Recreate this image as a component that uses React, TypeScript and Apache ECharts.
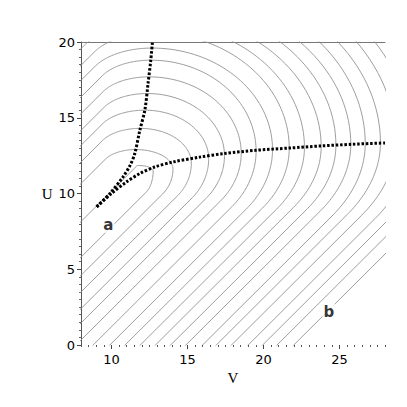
import React, { useEffect, useRef } from "react";
import * as echarts from "echarts";

// axis ranges / ticks
const vRange = [8, 28];
const uRange = [0, 20];
const vLabels = [10, 15, 20, 25];
const uLabels = [0, 5, 10, 15, 20];

// contour parameters (one entry per contour, innermost first)
const topV = [11.75, 11.6, 11.9, 12.2, 12.35, 12.47, 12.59, 12.67, 12.75, 12.8, 12.88, 12.95, 13.0, 13.05, 13.1, 13.15, 13.2, 13.25, 13.28, 13.3];
const topU = [11.85, 12.9, 14.3, 15.5, 16.6, 17.7, 18.8, 19.6, 20.6, 21.25, 21.9, 22.6, 23.25, 24.0, 24.65, 25.4, 26.15, 26.9, 27.65, 28.4];
const rightV = [12.75, 14.05, 15.26, 16.4, 17.44, 18.54, 19.52, 20.6, 21.7, 22.7, 23.8, 24.77, 25.75, 26.7, 27.7, 28.7, 29.7, 30.7, 31.7, 32.7];
const rightU = [11.5, 11.6, 12.0, 12.3, 12.5, 12.65, 12.8, 12.9, 13.0, 13.05, 13.1, 13.2, 13.25, 13.3, 13.35, 13.4, 13.45, 13.5, 13.55, 13.6];
const upperOffset = [0, 2.66, 4.08, 5.18, 6.17, 7.27, 8.37, 9.47, 10.46, 11.56, 12.6, 13.7, 14.8, 15.9, 17.0, 18.1, 19.2, 20.3, 21.4, 22.5]; // U - V of upper-left straight branch
const lowerOffset = [2.2, 3.4, 4.5, 5.6, 6.55, 7.67, 8.8, 9.9, 10.9, 11.9, 12.9, 13.9, 14.9, 16.0, 16.9, 17.9, 19.0, 19.95, 20.9, 22.0]; // V - U of lower-right straight branch

// dotted curves
const curveA = [[9.03, 9.12], [9.9, 10.0], [10.77, 11.1], [11.25, 11.9], [11.54, 12.64], [11.87, 14.17], [12.2, 15.5], [12.41, 17.25], [12.59, 18.8], [12.7, 20]];
const curveB = [[9.03, 9.12], [10.0, 10.0], [11.0, 10.77], [11.87, 11.32], [12.85, 11.75], [14.05, 12.08], [15.8, 12.4], [17.44, 12.64], [19.5, 12.85], [21.7, 13.0], [23.8, 13.14], [25.85, 13.25], [28, 13.34]];

// region labels
const regionLabels = [
  { name: "a", v: 9.8, u: 7.9 },
  { name: "b", v: 24.3, u: 2.2 },
];

function contourPoints(k: number): number[][] {
  const cv = topV[k], tu = topU[k], rv = rightV[k], ru = rightU[k];
  const a = rv - cv; // upper-right horizontal semi-axis
  const bR = tu - ru; // upper-right vertical semi-axis
  const n = 40;
  const L = 40;
  const pts: number[][] = [];
  // upper-left: tight corner joining the straight branch U - V = upperOffset
  const g = Math.max(upperOffset[k] - (tu - cv), 0.05);
  const bUL = 0.9 * g;
  const s = bUL + g;
  const aL = Math.sqrt(s * s - bUL * bUL);
  const thT = Math.atan2(aL, bUL);
  const cuUL = tu - bUL;
  const pu = [cv - aL * Math.sin(thT), cuUL + bUL * Math.cos(thT)];
  pts.push([pu[0] - L, pu[1] - L]);
  for (let i = 0; i <= n; i++) {
    const th = thT * (1 - i / n);
    pts.push([cv - aL * Math.sin(th), cuUL + bUL * Math.cos(th)]);
  }
  // upper-right arc from top to rightmost point
  for (let i = 1; i <= n; i++) {
    const ph = (Math.PI / 2) * (i / n);
    pts.push([cv + a * Math.sin(ph), ru + bR * Math.cos(ph)]);
  }
  // lower-right: broad bend into straight branch V - U = lowerOffset
  const h = Math.max(lowerOffset[k] - (rv - ru), 0.05);
  const s2 = a + h;
  const bL = Math.sqrt(s2 * s2 - a * a);
  const psT = Math.atan2(bL, a);
  for (let i = 1; i <= n; i++) {
    const ps = psT * (i / n);
    pts.push([rv - a + a * Math.cos(ps), ru - bL * Math.sin(ps)]);
  }
  const pl = pts[pts.length - 1];
  pts.push([pl[0] - L, pl[1] - L]);
  return pts;
}

export default function App() {
  const ref = useRef<HTMLDivElement>(null);
  useEffect(() => {
    if (!ref.current) return;
    const chart = echarts.init(ref.current, undefined, { renderer: "svg" });
    const contourStyle = { color: "#8c8c8c", width: 0.85 };
    const series: any[] = [];
    for (let k = 0; k < rightV.length; k++) {
      series.push({
        type: "line",
        data: contourPoints(k),
        showSymbol: false,
        silent: true,
        lineStyle: contourStyle,
        clip: true,
        z: 1,
      });
    }
    [curveA, curveB].forEach((cur) => {
      series.push({
        type: "line",
        data: cur,
        smooth: 0.3,
        showSymbol: false,
        silent: true,
        clip: true,
        lineStyle: { color: "#000", width: 3, type: [2.5, 1.8], cap: "butt" },
        z: 3,
      });
    });
    series.push({
      type: "scatter",
      data: regionLabels.map((r) => ({ value: [r.v, r.u], name: r.name })),
      symbolSize: 0,
      z: 5,
      label: {
        show: true,
        position: "inside",
        formatter: (p: any) => p.name,
        fontFamily: "DejaVu Sans",
        fontWeight: "bold",
        fontSize: 15,
        color: "#000",
        backgroundColor: "#fff",
        padding: [0, 1],
      },
    });
    const tickFont = { fontFamily: "DejaVu Sans", fontSize: 13, color: "#000" };
    chart.setOption({
      animation: false,
      backgroundColor: "#fff",
      grid: { left: 81, right: 22, top: 42, bottom: 62 },
      xAxis: [
        {
          type: "value",
          min: vRange[0],
          max: vRange[1],
          interval: 0.5,
          name: "V",
          nameLocation: "middle",
          nameGap: 24,
          nameTextStyle: { fontFamily: "Liberation Serif", fontSize: 15, color: "#000" },
          axisLine: { show: false },
          axisTick: { show: true, length: 2, lineStyle: { color: "#555" } },
          splitLine: { show: false },
          axisLabel: { ...tickFont, margin: 8, customValues: vLabels },
        },
        {
          type: "value",
          position: "bottom",
          min: vRange[0],
          max: vRange[1],
          axisLine: { show: false },
          axisTick: { show: true, length: 4, customValues: vLabels, lineStyle: { color: "#444" } },
          axisLabel: { show: false },
          splitLine: { show: false },
        },
        {
          type: "value",
          position: "top",
          min: vRange[0],
          max: vRange[1],
          axisLine: { show: true, lineStyle: { color: "#777", width: 1 } },
          axisTick: { show: false },
          axisLabel: { show: false },
          splitLine: { show: false },
        },
      ],
      yAxis: {
        type: "value",
        min: uRange[0],
        max: uRange[1],
        interval: 5,
        name: "U",
        nameLocation: "middle",
        nameGap: 26,
        nameRotate: 0,
        nameTextStyle: { fontFamily: "Liberation Serif", fontSize: 15, color: "#000" },
        axisLine: { show: true, onZero: false, lineStyle: { color: "#555", width: 1 } },
        axisTick: { show: true, length: 4, lineStyle: { color: "#444" } },
        minorTick: { show: true, splitNumber: 10, length: 2, lineStyle: { color: "#666" } },
        splitLine: { show: false },
        axisLabel: { ...tickFont, margin: 6, customValues: uLabels },
      },
      series,
    });
    return () => chart.dispose();
  }, []);
  return (
    <div
      ref={ref}
      style={{ position: "fixed", left: 0, top: 0, width: 407, height: 407, background: "#fff" }}
    />
  );
}
